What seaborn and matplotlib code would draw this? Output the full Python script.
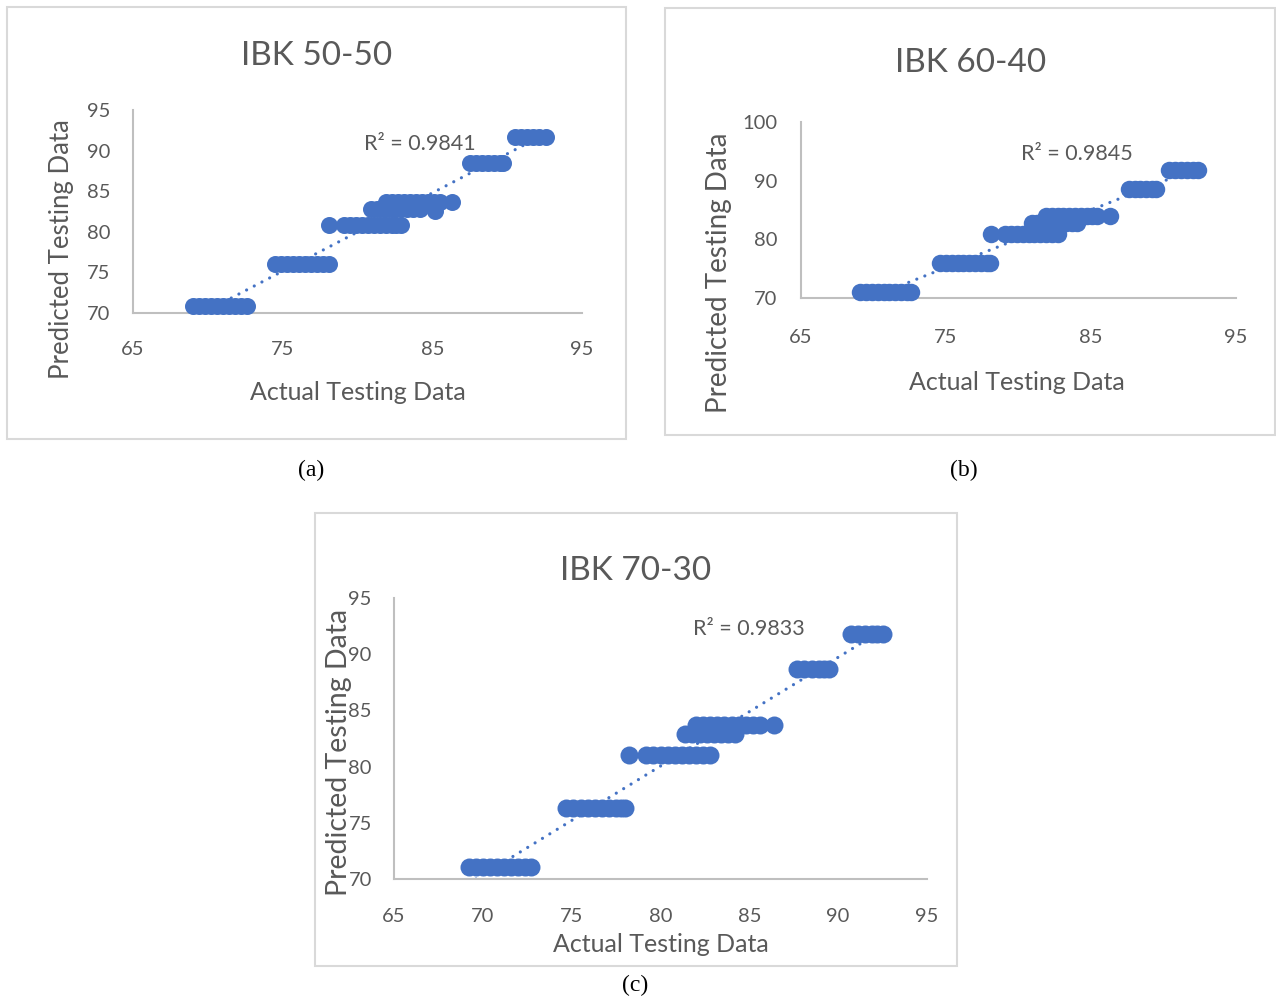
import matplotlib
matplotlib.use('Agg')
import matplotlib.pyplot as plt
import seaborn as sns
import pandas as pd
from matplotlib.patches import Rectangle

# ---- data ----
titles = ['IBK 50-50', 'IBK 60-40', 'IBK 70-30']
r2_labels = ['R\u00b2 = 0.9841', 'R\u00b2 = 0.9845', 'R\u00b2 = 0.9833']
captions = ['(a)', '(b)', '(c)']

actual_a = [69.0, 69.4, 69.8, 70.2, 70.6, 71.0, 71.4, 71.8, 72.2, 72.6,
            74.5, 74.9, 75.3, 75.7, 76.1, 76.5, 76.9, 77.3, 77.7, 78.1,
            78.1, 79.1, 79.5, 79.9, 80.3, 80.7, 81.1, 81.5, 81.9, 82.3, 82.6, 82.9,
            80.9, 81.3, 81.7, 82.1, 82.5, 82.9, 83.3, 83.7, 84.2, 85.2,
            81.9, 82.3, 82.7, 83.1, 83.5, 83.9, 84.3, 84.7, 85.1, 85.5, 86.3,
            87.5, 87.9, 88.3, 88.7, 89.1, 89.5, 89.7,
            90.5, 90.9, 91.3, 91.7, 92.1, 92.6]
pred_a = [70.9, 70.9, 70.9, 70.9, 70.9, 70.9, 70.9, 70.9, 70.9, 70.9,
          76.0, 76.0, 76.0, 76.0, 76.0, 76.0, 76.0, 76.0, 76.0, 76.0,
          80.8, 80.8, 80.8, 80.8, 80.8, 80.8, 80.8, 80.8, 80.8, 80.8, 80.8, 80.8,
          82.8, 82.8, 82.8, 82.8, 82.8, 82.8, 82.8, 82.8, 82.8, 82.6,
          83.7, 83.7, 83.7, 83.7, 83.7, 83.7, 83.7, 83.7, 83.7, 83.7, 83.7,
          88.5, 88.5, 88.5, 88.5, 88.5, 88.5, 88.5,
          91.7, 91.7, 91.7, 91.7, 91.7, 91.7]

actual_b = [69.1, 69.5, 69.9, 70.3, 70.7, 71.1, 71.5, 71.9, 72.3, 72.6,
            74.6, 75.0, 75.4, 75.8, 76.2, 76.6, 77.0, 77.4, 77.8, 78.0,
            78.1, 79.1, 79.5, 79.9, 80.3, 80.7, 81.1, 81.5, 81.9, 82.3, 82.7,
            80.9, 81.3, 81.7, 82.1, 82.5, 82.9, 83.3, 83.7, 84.0,
            81.9, 82.3, 82.7, 83.1, 83.5, 83.9, 84.3, 84.7, 85.1, 85.4, 86.3,
            87.6, 88.0, 88.4, 88.8, 89.2, 89.5,
            90.4, 90.8, 91.2, 91.6, 92.0, 92.4]
pred_b = [71.0, 71.0, 71.0, 71.0, 71.0, 71.0, 71.0, 71.0, 71.0, 71.0,
          76.0, 76.0, 76.0, 76.0, 76.0, 76.0, 76.0, 76.0, 76.0, 76.0,
          80.9, 80.9, 80.9, 80.9, 80.9, 80.9, 80.9, 80.9, 80.9, 80.9, 80.9,
          82.8, 82.8, 82.8, 82.8, 82.8, 82.8, 82.8, 82.8, 82.8,
          83.9, 83.9, 83.9, 83.9, 83.9, 83.9, 83.9, 83.9, 83.9, 83.9, 83.9,
          88.6, 88.6, 88.6, 88.6, 88.6, 88.6,
          91.8, 91.8, 91.8, 91.8, 91.8, 91.8]

actual_c = [69.2, 69.6, 70.0, 70.4, 70.8, 71.2, 71.6, 72.0, 72.4, 72.7,
            74.7, 75.1, 75.5, 75.9, 76.3, 76.7, 77.1, 77.5, 77.8, 78.0,
            78.2, 79.2, 79.6, 80.0, 80.4, 80.8, 81.2, 81.6, 82.0, 82.4, 82.8,
            81.4, 81.8, 82.2, 82.6, 83.0, 83.4, 83.8, 84.2,
            82.0, 82.4, 82.8, 83.2, 83.6, 84.0, 84.4, 84.8, 85.2, 85.6, 86.4,
            87.7, 88.1, 88.5, 88.9, 89.2, 89.5,
            90.7, 91.1, 91.5, 91.9, 92.2, 92.5]
pred_c = [71.1, 71.1, 71.1, 71.1, 71.1, 71.1, 71.1, 71.1, 71.1, 71.1,
          76.3, 76.3, 76.3, 76.3, 76.3, 76.3, 76.3, 76.3, 76.3, 76.3,
          81.0, 81.0, 81.0, 81.0, 81.0, 81.0, 81.0, 81.0, 81.0, 81.0, 81.0,
          82.9, 82.9, 82.9, 82.9, 82.9, 82.9, 82.9, 82.9,
          83.7, 83.7, 83.7, 83.7, 83.7, 83.7, 83.7, 83.7, 83.7, 83.7, 83.7,
          88.7, 88.7, 88.7, 88.7, 88.7, 88.7,
          91.8, 91.8, 91.8, 91.8, 91.8, 91.8]

xticks_a = [65, 75, 85, 95]
yticks_a = [70, 75, 80, 85, 90, 95]
xticks_b = [65, 75, 85, 95]
yticks_b = [70, 80, 90, 100]
xticks_c = [65, 70, 75, 80, 85, 90, 95]
yticks_c = [70, 75, 80, 85, 90, 95]

BLUE = '#4472C4'
GRAY = '#595959'

sns.set_style('white')
plt.rcParams['font.family'] = ['Lato', 'DejaVu Sans']

W, H = 1276, 997
fig = plt.figure(figsize=(W / 100, H / 100), dpi=100)


def fx(x):
    return x / W


def fy(y):
    return 1 - y / H


# layout in pixels (left, top, right, bottom) etc.
layouts = [
    dict(frame=(7, 7, 626, 439), axes=(133, 110, 582, 313), ylim=(70, 95),
         title_xy=(317, 65), r2_xy=(364, 150), cap_xy=(311, 470),
         xlab=(358, 392), ylab=(62, 249), s=150, xpad=20, ypad=16.5,
         ylab_size=18.5),
    dict(frame=(665, 8, 1275, 435), axes=(801, 122, 1236, 298), ylim=(70, 100),
         title_xy=(971, 72), r2_xy=(1021, 160), cap_xy=(964, 470),
         xlab=(1017, 383), ylab=(719, 273), s=158, xpad=22, ypad=17,
         ylab_size=20),
    dict(frame=(315, 513, 957, 966), axes=(394, 598, 927, 879), ylim=(70, 95),
         title_xy=(636, 580), r2_xy=(693, 635), cap_xy=(635, 985),
         xlab=(661, 945), ylab=(339, 752), s=168, xpad=21, ypad=16,
         ylab_size=20.5),
]
data = [(actual_a, pred_a, xticks_a, yticks_a),
        (actual_b, pred_b, xticks_b, yticks_b),
        (actual_c, pred_c, xticks_c, yticks_c)]

for i, lay in enumerate(layouts):
    actual, pred, xt, yt = data[i]
    df = pd.DataFrame({'Actual': actual, 'Predicted': pred})

    l, t, r, b = lay['frame']
    fig.add_artist(Rectangle((fx(l), fy(b)), (r - l) / W, (b - t) / H,
                             transform=fig.transFigure, fill=False,
                             edgecolor='#d9d9d9', lw=1.5))

    l, t, r, b = lay['axes']
    ax = fig.add_axes([fx(l), fy(b), (r - l) / W, (b - t) / H])

    # dotted linear trendline behind the points
    sns.regplot(data=df, x='Actual', y='Predicted', ax=ax, scatter=False,
                ci=None, color=BLUE,
                line_kws=dict(lw=2.3, linestyle=(0, (0.01, 2.7)),
                              dash_capstyle='round', zorder=2))
    sns.scatterplot(data=df, x='Actual', y='Predicted', ax=ax, s=lay['s'],
                    color=BLUE, linewidth=0, alpha=1, zorder=3, clip_on=False)

    ax.set_xlim(65, 95)
    ax.set_ylim(*lay['ylim'])
    ax.set_xticks(xt)
    ax.set_yticks(yt)
    ax.set_facecolor('none')
    for side in ['top', 'right']:
        ax.spines[side].set_visible(False)
    for side in ['left', 'bottom']:
        ax.spines[side].set_color('#bfbfbf')
        ax.spines[side].set_linewidth(1.5)
    ax.tick_params(axis='x', length=0, pad=lay['xpad'], labelsize=14.5,
                   labelcolor=GRAY)
    ax.tick_params(axis='y', length=0, pad=lay['ypad'], labelsize=14.5,
                   labelcolor=GRAY)

    ax.set_xlabel('Actual Testing Data', fontsize=18, color=GRAY, va='center')
    ax.set_ylabel('Predicted Testing Data', fontsize=lay['ylab_size'],
                  color=GRAY, va='center')
    ax.xaxis.set_label_coords((lay['xlab'][0] - l) / (r - l),
                              (b - lay['xlab'][1]) / (b - t))
    ax.yaxis.set_label_coords((lay['ylab'][0] - l) / (r - l),
                              (b - lay['ylab'][1]) / (b - t))

    fig.text(fx(lay['title_xy'][0]), fy(lay['title_xy'][1]), titles[i],
             ha='center', va='baseline', fontsize=24, color=GRAY)
    fig.text(fx(lay['r2_xy'][0]), fy(lay['r2_xy'][1]), r2_labels[i],
             ha='left', va='baseline', fontsize=15.5, color=GRAY)
    fig.text(fx(lay['cap_xy'][0]), fy(lay['cap_xy'][1]), captions[i],
             ha='center', va='center', fontsize=17, color='black',
             family=['Liberation Serif', 'DejaVu Serif'])

fig.savefig('out.png', dpi=100)
